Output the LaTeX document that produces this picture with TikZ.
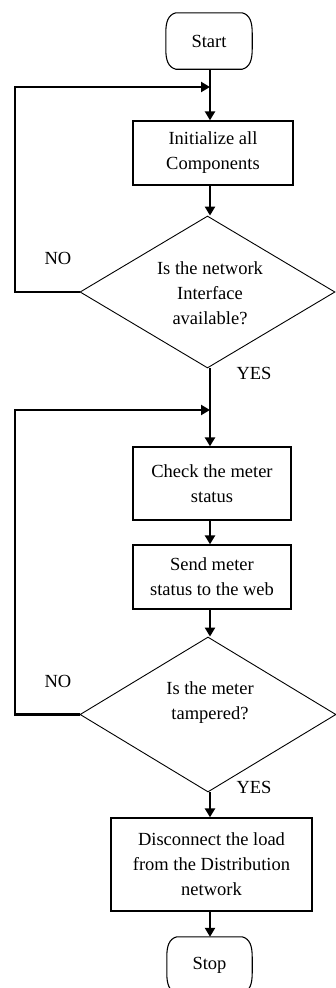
\documentclass[tikz,border=0pt]{standalone}
\usepackage{fontspec}
\setmainfont{Liberation Serif}
\usetikzlibrary{arrows.meta,shapes.geometric,calc}
\newcommand\termout[1]{%
  \draw[termline] ($(#1.north west)+(10,0)$) -- ($(#1.north east)+(-10,0)$)
    .. controls ($(#1.north east)+(-2,2)$) and ($(#1.north east)+(0,10)$) .. ($(#1.north east)+(0,20)$)
    -- ($(#1.south east)+(0,-20)$)
    .. controls ($(#1.south east)+(0,-10)$) and ($(#1.south east)+(-2,-2)$) .. ($(#1.south east)+(-10,0)$)
    -- ($(#1.south west)+(10,0)$)
    .. controls ($(#1.south west)+(2,-2)$) and ($(#1.south west)+(0,-10)$) .. ($(#1.south west)+(0,-20)$)
    -- ($(#1.north west)+(0,20)$)
    .. controls ($(#1.north west)+(0,10)$) and ($(#1.north west)+(2,2)$) .. cycle;}
\begin{document}
\begin{tikzpicture}[x=1pt,y=-1pt,
  txt/.style={font=\fontsize{18.5}{25}\selectfont, align=center, inner sep=0pt},
  procbox/.style={draw, rectangle, line width=1.3pt, txt},
  termbox/.style={rectangle, txt},
  termline/.style={line width=1.1pt},
  dia/.style={draw, diamond, line width=0.9pt, inner sep=0pt},
  tip/.style={-{Triangle[width=10pt,length=9pt]}},
  arr/.style={line width=2.8pt, tip},
  loopl/.style={line width=2.2pt, tip}]
\useasboundingbox (0,0) rectangle (336,988);
\clip (0,0) rectangle (336,988);

\node[termbox, minimum width=86pt, minimum height=56pt] (start) at (209,41) {Start};
\node[procbox, minimum width=160pt, minimum height=64pt] (init) at (213,153) {Initialize all\\Components};
\node[dia, minimum width=255pt, minimum height=152pt] (d1) at (207.5,292) {};
\node[txt] (d1t) at (210,293) {Is the network\\Interface\\available?};
\node[procbox, minimum width=158pt, minimum height=73pt] (check) at (212,483.5) {Check the meter\\status};
\node[procbox, minimum width=158pt, minimum height=64pt] (send) at (212,577) {Send meter\\status to the web};
\node[dia, minimum width=256pt, minimum height=155pt] (d2) at (208,714.5) {};
\node[txt] (d2t) at (210,703) {Is the meter\\tampered?};
\node[procbox, minimum width=201pt, minimum height=93pt] (disc) at (211.5,864.5) {Disconnect the load\\from the Distribution\\network};
\node[termbox, minimum width=85pt, minimum height=56pt] (stop) at (209.5,965) {Stop};

\termout{start}
\termout{stop}

\node[txt] (no1) at (58,258) {NO};
\node[txt] (yes1) at (254,373) {YES};
\node[txt] (no2) at (58,681) {NO};
\node[txt] (yes2) at (254,787) {YES};

\coordinate (col) at (210,0);
\coordinate (j1) at (210,87);
\coordinate (l1) at (15,87);
\coordinate (j2) at (210,410);
\coordinate (l2) at (15,410);

\draw[arr] (start.south -| col) -- (init.north -| col);
\draw[arr] (init.south -| col) -- (d1.north -| col);
\draw[loopl] (d1.west) -| (l1) -- (j1);
\draw[arr] (d1.south -| col) -- (check.north -| col);
\draw[loopl] (d2.west) -| (l2) -- (j2);
\draw[arr] (check.south -| col) -- (send.north -| col);
\draw[arr] (send.south -| col) -- (d2.north -| col);
\draw[arr] (d2.south -| col) -- (disc.north -| col);
\draw[arr] (disc.south -| col) -- (stop.north -| col);
\end{tikzpicture}
\end{document}
